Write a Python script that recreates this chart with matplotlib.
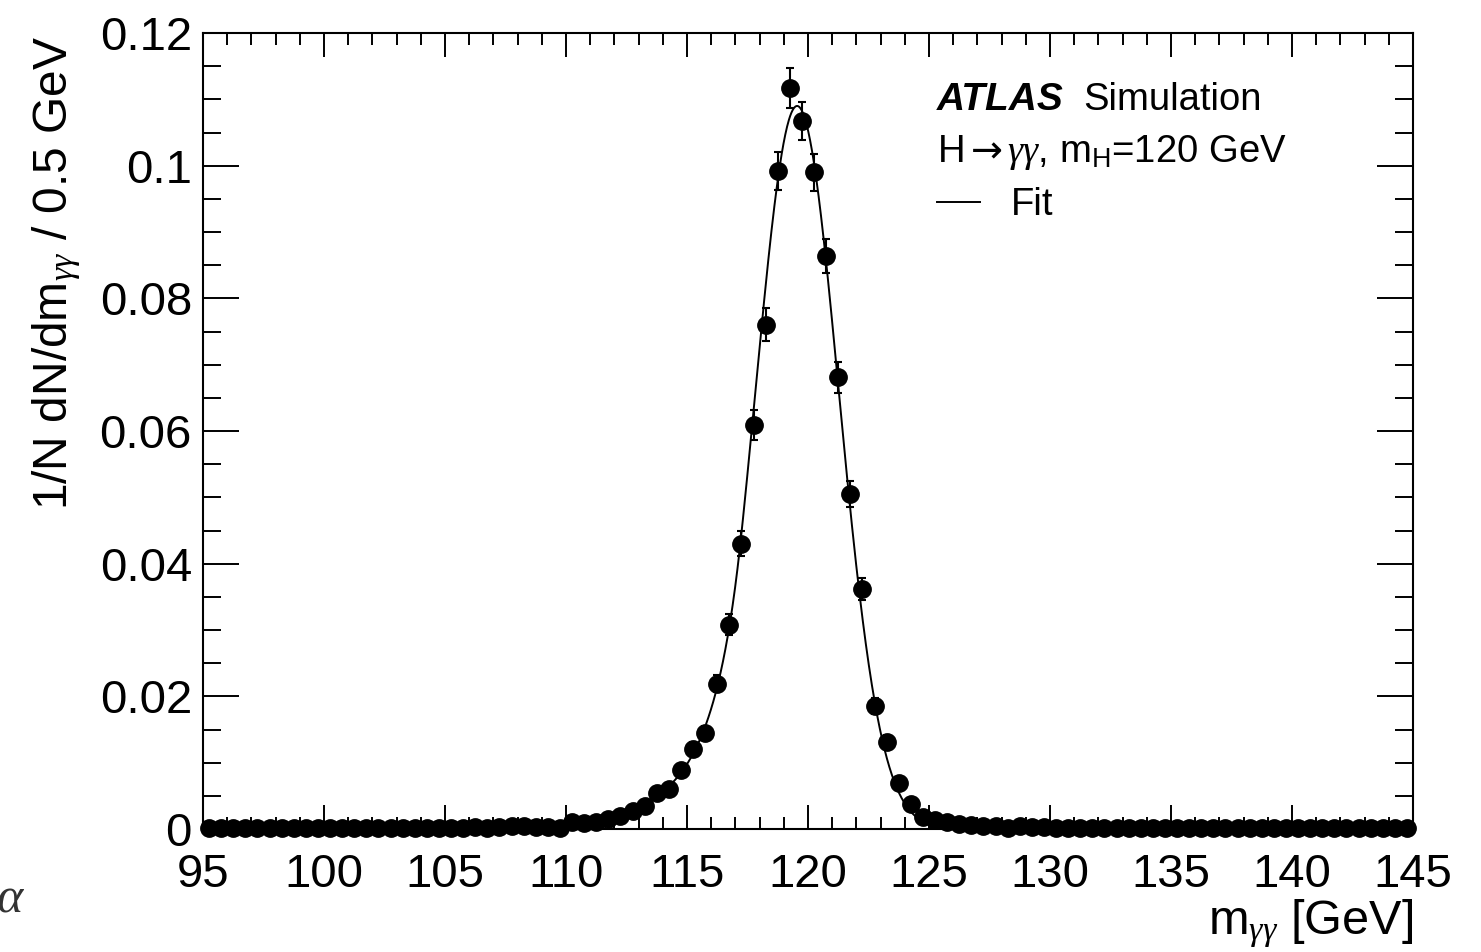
import numpy as np
import matplotlib
matplotlib.use("Agg")
import matplotlib.pyplot as plt
from matplotlib.ticker import MultipleLocator

plt.rcParams["font.family"] = ["Liberation Sans", "DejaVu Sans"]
plt.rcParams["mathtext.fontset"] = "custom"
plt.rcParams["mathtext.rm"] = "Liberation Sans"
plt.rcParams["mathtext.it"] = "Liberation Serif:italic"
plt.rcParams["mathtext.bf"] = "Liberation Sans:bold"
plt.rcParams["mathtext.sf"] = "DejaVu Sans"

# 0.5 GeV bins from 95 to 145 GeV
bin_edges = np.arange(95.0, 145.01, 0.5)
bin_centers = 0.5 * (bin_edges[:-1] + bin_edges[1:])

# normalised entries per bin (1/N dN/dm)
norm_counts = [
    # 95 - 100
    0.0001, 0.0001, 0.0001, 0.0001, 0.0001, 0.0001, 0.0001, 0.0001, 0.0001, 0.0001,
    # 100 - 105
    0.0001, 0.0001, 0.0001, 0.0002, 0.0001, 0.0001, 0.0002, 0.0001, 0.0001, 0.0002,
    # 105 - 110
    0.0002, 0.0002, 0.0003, 0.0002, 0.0003, 0.0005, 0.0004, 0.0003, 0.0003, 0.0001,
    # 110 - 115
    0.0011, 0.0009, 0.0011, 0.0015, 0.0020, 0.0027, 0.0034, 0.0054, 0.0060, 0.0089,
    # 115 - 120
    0.0121, 0.0145, 0.0219, 0.0308, 0.0430, 0.0609, 0.0760, 0.0992, 0.1117, 0.1067,
    # 120 - 125
    0.0990, 0.0864, 0.0681, 0.0505, 0.0362, 0.0185, 0.0131, 0.0069, 0.0038, 0.0018,
    # 125 - 130
    0.0013, 0.0010, 0.0008, 0.0006, 0.0005, 0.0004, 0.0001, 0.0005, 0.0003, 0.0003,
    # 130 - 135
    0.0002, 0.0002, 0.0002, 0.0002, 0.0002, 0.0002, 0.0002, 0.0002, 0.0002, 0.0002,
    # 135 - 140
    0.0001, 0.0001, 0.0001, 0.0001, 0.0001, 0.0001, 0.0001, 0.0001, 0.0001, 0.0001,
    # 140 - 145
    0.0001, 0.0001, 0.0001, 0.0001, 0.0001, 0.0001, 0.0001, 0.0001, 0.0001, 0.0001,
]

# statistical uncertainty per bin
norm_errors = [
    0.0001, 0.0001, 0.0001, 0.0001, 0.0001, 0.0001, 0.0001, 0.0001, 0.0001, 0.0001,
    0.0001, 0.0001, 0.0001, 0.0001, 0.0001, 0.0001, 0.0001, 0.0001, 0.0001, 0.0001,
    0.0001, 0.0001, 0.0002, 0.0001, 0.0002, 0.0002, 0.0002, 0.0002, 0.0002, 0.0001,
    0.0003, 0.0003, 0.0003, 0.0003, 0.0004, 0.0005, 0.0005, 0.0007, 0.0007, 0.0008,
    0.0010, 0.0011, 0.0013, 0.0016, 0.0019, 0.0022, 0.0025, 0.0028, 0.0030, 0.0029,
    0.0028, 0.0026, 0.0023, 0.0020, 0.0017, 0.0012, 0.0010, 0.0007, 0.0006, 0.0004,
    0.0003, 0.0003, 0.0002, 0.0002, 0.0002, 0.0002, 0.0001, 0.0002, 0.0002, 0.0002,
    0.0001, 0.0001, 0.0001, 0.0001, 0.0001, 0.0001, 0.0001, 0.0001, 0.0001, 0.0001,
    0.0001, 0.0001, 0.0001, 0.0001, 0.0001, 0.0001, 0.0001, 0.0001, 0.0001, 0.0001,
    0.0001, 0.0001, 0.0001, 0.0001, 0.0001, 0.0001, 0.0001, 0.0001, 0.0001, 0.0001,
]

# Crystal Ball fit result
fit_peak = 0.109
fit_mu = 119.55
fit_sigma = 1.72
fit_alpha = 1.35
fit_n = 5.0


def crystal_ball(x, peak, mu, sigma, alpha, n):
    t = (x - mu) / sigma
    a = (n / alpha) ** n * np.exp(-0.5 * alpha ** 2)
    b = n / alpha - alpha
    core = np.exp(-0.5 * t ** 2)
    tail = a * np.power(np.clip(b - t, 1e-9, None), -n)
    return peak * np.where(t > -alpha, core, tail)


fig = plt.figure(figsize=(14.81, 9.52), dpi=100)
ax = fig.add_axes([203 / 1481, 123 / 952, 1210 / 1481, 796 / 952])

m_fine = np.linspace(95, 145, 2000)
ax.plot(m_fine, crystal_ball(m_fine, fit_peak, fit_mu, fit_sigma, fit_alpha, fit_n),
        color="black", lw=1.4, zorder=3)

ax.errorbar(bin_centers, norm_counts, yerr=norm_errors, fmt="o", color="black",
            markersize=12.5, elinewidth=1.5, capsize=2.8, capthick=1.5,
            zorder=5, clip_on=False)

ax.set_xlim(95, 145)
ax.set_ylim(0, 0.12)
ax.xaxis.set_major_locator(MultipleLocator(5))
ax.xaxis.set_minor_locator(MultipleLocator(1))
ax.yaxis.set_minor_locator(MultipleLocator(0.005))
ax.set_yticks([0, 0.02, 0.04, 0.06, 0.08, 0.1, 0.12])
ax.set_yticklabels(["0", "0.02", "0.04", "0.06", "0.08", "0.1", "0.12"])

ax.tick_params(axis="both", which="both", direction="in", top=True, right=True,
               width=1.4, labelsize=34)
ax.tick_params(axis="x", which="major", length=17.5, pad=17)
ax.tick_params(axis="x", which="minor", length=8.5)
ax.tick_params(axis="y", which="major", length=26, pad=8)
ax.tick_params(axis="y", which="minor", length=13)
for side in ax.spines.values():
    side.set_linewidth(1.5)

fig.text(1413 / 1481, 1 - 934 / 952, r"m$_{\gamma\gamma}$ [GeV]", fontsize=35,
         ha="right", va="baseline")
fig.text(57 / 1481, 1 - 36 / 952, r"1/N dN/dm$_{\gamma\gamma}$ / 0.5 GeV", fontsize=34.5,
         rotation=90, ha="center", va="top")

# ATLAS label block
fig.text(937 / 1481, 1 - 110 / 952, "ATLAS", fontsize=28, fontweight="bold",
         fontstyle="italic", ha="left", va="baseline")
fig.text(1083 / 1481, 1 - 110 / 952, "Simulation", fontsize=27.5,
         ha="left", va="baseline")
fig.text(937 / 1481, 1 - 162 / 952, r"H$\mathsf{\rightarrow}\gamma\gamma$, m$_{\rm H}$=120 GeV",
         fontsize=27.5, ha="left", va="baseline")
fig.add_artist(plt.Line2D([937 / 1481, 980 / 1481], [1 - 202 / 952, 1 - 202 / 952],
                          color="black", lw=1.4))
fig.text(1011 / 1481, 1 - 215 / 952, "Fit", fontsize=27.5, ha="left", va="baseline")

fig.text(-0.003, 1 - 912 / 952, r"$\alpha$", fontsize=36, ha="left", va="baseline",
         color="#333333")

fig.savefig("out.png", dpi=100, facecolor="white")
